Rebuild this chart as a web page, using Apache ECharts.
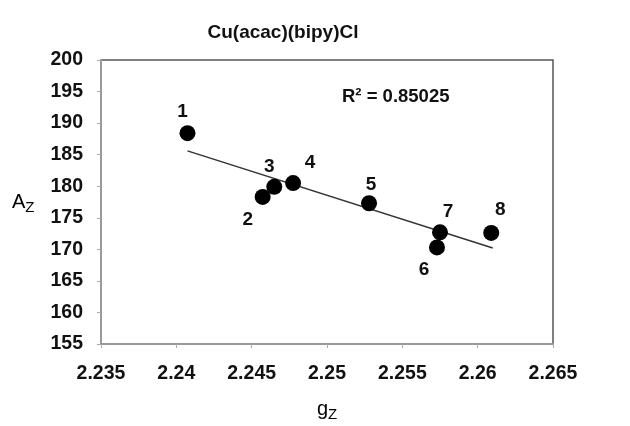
<!DOCTYPE html>
<html><head><meta charset="utf-8">
<script src="https://cdn.jsdelivr.net/npm/echarts@6/dist/echarts.min.js"></script>
<style>html,body{margin:0;padding:0;background:#fff}#c{width:630px;height:426px}</style>
</head><body><div id="c"></div>
<script>
var gz = [2.24074, 2.24573, 2.2465, 2.24775, 2.25279, 2.2573, 2.2575, 2.2609];
var az = [188.4, 178.3, 179.9, 180.5, 177.3, 170.3, 172.7, 172.6];
var pointLabels = ['1','2','3','4','5','6','7','8'];
var trendX = [2.24074, 2.2610];
var trendY = [185.6, 170.2];
var xTicks = {min: 2.235, max: 2.265, interval: 0.005};
var yTicks = {min: 155, max: 200, interval: 5};
var r2Text = 'R² = 0.85025';
var titleText = 'Cu(acac)(bipy)Cl';

var labelOffsets = [[-5,-21],[-15,23],[-5,-20],[17,-20],[2,-18],[-13,22],[8,-21],[9,-23]];
var F = '"Liberation Sans", Arial, sans-serif';
var nameRich = {a: {fontFamily: F, fontSize: 20, color: '#111'}, s: {fontFamily: F, fontSize: 15, color: '#111', padding: [12,0,0,0]}};
var chart = echarts.init(document.getElementById('c'));
chart.setOption({
  animation: false,
  title: {text: titleText, left: 278, top: 18, textAlign: 'center',
    textStyle: {fontFamily: F, fontSize: 19, fontWeight: 'bold', color: '#111'}},
  grid: {left: 101, right: 77, top: 60, bottom: 82, show: true, borderColor: '#555', borderWidth: 1.5},
  xAxis: {type: 'value', min: xTicks.min, max: xTicks.max, interval: xTicks.interval,
    axisLine: {lineStyle: {color: '#999', width: 2}},
    axisTick: {show: true, length: 4, lineStyle: {color: '#aaa'}},
    splitLine: {show: false},
    axisLabel: {margin: 20, fontFamily: F, fontSize: 19.5, fontWeight: 'bold', color: '#111',
      formatter: function(v){ return String(+v.toFixed(3)); }}
  },
  yAxis: {type: 'value', min: yTicks.min, max: yTicks.max, interval: yTicks.interval,
    axisLine: {lineStyle: {color: '#999', width: 2}},
    axisTick: {show: true, length: 4, lineStyle: {color: '#aaa'}},
    splitLine: {show: false},
    axisLabel: {margin: 18, fontFamily: F, fontSize: 19.5, fontWeight: 'bold', color: '#111'}
  },
  graphic: [
    {type: 'text', left: 342, top: 87,
      style: {text: r2Text, font: 'bold 18.5px "Liberation Sans", Arial, sans-serif', fill: '#111'}},
    {type: 'text', left: 12, top: 192, style: {text: '{a|A}{s|Z}', rich: nameRich}},
    {type: 'text', left: 317, top: 399, style: {text: '{a|g}{s|Z}', rich: nameRich}}
  ],
  series: [
    {type: 'line', data: trendX.map(function(x,i){return [x, trendY[i]];}), symbol: 'none',
      lineStyle: {color: '#333', width: 1.5}, z: 1},
    {type: 'scatter', symbolSize: 16, itemStyle: {color: '#000', opacity: 1}, z: 2,
      data: gz.map(function(x,i){ return {value: [x, az[i]], name: pointLabels[i],
        label: {show: true, position: 'inside', offset: labelOffsets[i], formatter: pointLabels[i],
          fontFamily: F, fontSize: 19, fontWeight: 'bold', color: '#111', opacity: 1}}; })}
  ]
});
</script></body></html>
